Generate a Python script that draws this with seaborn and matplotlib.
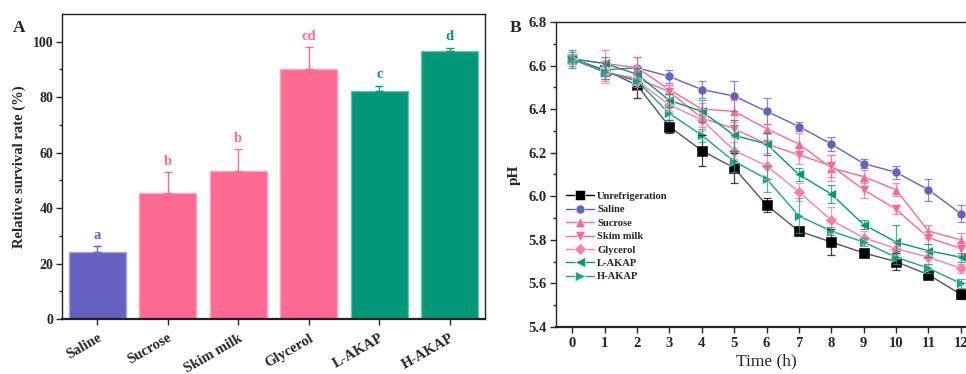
import matplotlib
matplotlib.use("Agg")
import matplotlib.pyplot as plt
import seaborn as sns
import pandas as pd
import numpy as np

# ---------------- data: panel A ----------------
treatments = ["Saline", "Sucrose", "Skim milk", "Glycerol", "L-AKAP", "H-AKAP"]
survival = [24.2, 45.4, 53.2, 90.0, 82.4, 96.8]
survival_err = [2.0, 7.5, 8.0, 8.0, 1.8, 1.1]
sig_letters = ["a", "b", "b", "cd", "c", "d"]
bar_colors = ["#6461C1", "#FF6A95", "#FF6A95", "#FF6A95", "#009878", "#009878"]
bar_edges = ["#A6A4E2", "#FFA3BE", "#FFA3BE", "#FFA3BE", "#66C2AE", "#66C2AE"]

# ---------------- data: panel B ----------------
hours = [0, 1, 2, 3, 4, 5, 6, 7, 8, 9, 10, 11, 12]
series_names = ["Unrefrigeration", "Saline", "Sucrose", "Skim milk", "Glycerol", "L-AKAP", "H-AKAP"]
ph_unref = [6.63, 6.58, 6.51, 6.32, 6.21, 6.13, 5.96, 5.84, 5.79, 5.74, 5.70, 5.64, 5.55]
ph_saline = [6.63, 6.58, 6.59, 6.55, 6.49, 6.46, 6.39, 6.32, 6.24, 6.15, 6.11, 6.03, 5.92]
ph_sucrose = [6.63, 6.61, 6.59, 6.49, 6.40, 6.39, 6.31, 6.24, 6.13, 6.09, 6.03, 5.84, 5.80]
ph_skim = [6.63, 6.57, 6.54, 6.48, 6.36, 6.31, 6.24, 6.19, 6.14, 6.03, 5.94, 5.81, 5.76]
ph_glycerol = [6.63, 6.57, 6.53, 6.42, 6.35, 6.21, 6.14, 6.02, 5.89, 5.81, 5.76, 5.72, 5.67]
ph_lakap = [6.63, 6.61, 6.56, 6.44, 6.39, 6.28, 6.24, 6.10, 6.01, 5.87, 5.79, 5.75, 5.72]
ph_hakap = [6.63, 6.57, 6.53, 6.38, 6.28, 6.16, 6.08, 5.91, 5.84, 5.79, 5.72, 5.67, 5.60]
err_unref = [0.02, 0.03, 0.06, 0.03, 0.07, 0.07, 0.03, 0.02, 0.06, 0.02, 0.04, 0.01, 0.02]
err_saline = [0.02, 0.04, 0.05, 0.03, 0.04, 0.07, 0.06, 0.02, 0.03, 0.02, 0.03, 0.05, 0.04]
err_sucrose = [0.02, 0.06, 0.05, 0.02, 0.03, 0.05, 0.02, 0.05, 0.06, 0.03, 0.03, 0.03, 0.03]
err_skim = [0.02, 0.04, 0.04, 0.03, 0.04, 0.04, 0.05, 0.04, 0.05, 0.04, 0.02, 0.03, 0.03]
err_glycerol = [0.02, 0.05, 0.04, 0.03, 0.05, 0.04, 0.06, 0.04, 0.06, 0.03, 0.03, 0.03, 0.02]
err_lakap = [0.04, 0.03, 0.03, 0.03, 0.05, 0.07, 0.05, 0.03, 0.04, 0.02, 0.08, 0.03, 0.02]
err_hakap = [0.03, 0.03, 0.03, 0.03, 0.03, 0.05, 0.06, 0.08, 0.02, 0.02, 0.03, 0.02, 0.02]
line_colors = ["#000000", "#6461C1", "#FF6A95", "#FF6A95", "#FF7FA8", "#009878", "#1AA385"]
line_markers = ["s", "o", "^", "v", "D", "<", ">"]

ph_all = [ph_unref, ph_saline, ph_sucrose, ph_skim, ph_glycerol, ph_lakap, ph_hakap]
err_all = [err_unref, err_saline, err_sucrose, err_skim, err_glycerol, err_lakap, err_hakap]

sns.set_theme(style="ticks")
plt.rcParams["font.family"] = ["Liberation Serif", "DejaVu Serif"]
plt.rcParams["font.weight"] = "bold"
plt.rcParams["axes.linewidth"] = 1.0

fig = plt.figure(figsize=(9.66, 3.74), dpi=100)

# ---------------- panel A ----------------
axA = fig.add_axes([0.0642, 0.1471, 0.4379, 0.8155])
dfA = pd.DataFrame({"treatment": treatments, "survival": survival})
sns.barplot(data=dfA, x="treatment", y="survival", hue="treatment",
            palette=dict(zip(treatments, bar_colors)), legend=False,
            width=0.81, ax=axA, errorbar=None, saturation=1)
for patch, ec in zip(axA.patches, bar_edges):
    patch.set_edgecolor(ec)
    patch.set_linewidth(1.0)
for i, (v, e, c, lab) in enumerate(zip(survival, survival_err, bar_colors, sig_letters)):
    axA.errorbar(i, v, yerr=[[0], [e]], fmt="none", ecolor=c, elinewidth=1.0,
                 capsize=3, capthick=1.0)
    axA.text(i, v + e + 1.5, lab, color=c, ha="center", va="bottom",
             fontsize=10.5, fontweight="bold")
axA.set_xlim(-0.5, 5.5)
axA.set_ylim(0, 110)
axA.set_yticks([0, 20, 40, 60, 80, 100])
axA.set_yticks(np.arange(10, 110, 20), minor=True)
axA.tick_params(axis="both", direction="out", length=4, width=1, labelsize=10, pad=2)
axA.tick_params(axis="y", which="minor", direction="out", length=2.5, width=1)
axA.set_xticks(range(len(treatments)))
axA.set_xticklabels(treatments, rotation=30, ha="right", rotation_mode="anchor",
                    fontsize=10.5, fontweight="bold")
for lbl in axA.get_yticklabels():
    lbl.set_fontweight("bold")
axA.tick_params(axis="x", pad=5)
axA.set_xlabel("")
axA.set_ylabel("Relative survival rate (%)", fontsize=10.5, fontweight="bold", labelpad=5)
for s in axA.spines.values():
    s.set_visible(True)
    s.set_color("#222222")
axA.spines["bottom"].set_linewidth(1.6)
fig.text(0.013, 0.915, "A", fontsize=12.5, fontweight="bold")

# ---------------- panel B ----------------
axB = fig.add_axes([0.5756, 0.1257, 0.4358, 0.8155])
rows = []
for name, vals in zip(series_names, ph_all):
    for h, v in zip(hours, vals):
        rows.append({"hour": h, "pH": v, "group": name})
dfB = pd.DataFrame(rows)
sns.lineplot(data=dfB, x="hour", y="pH", hue="group", style="group",
             hue_order=series_names, style_order=series_names,
             palette=dict(zip(series_names, line_colors)),
             markers=dict(zip(series_names, line_markers)), dashes=False,
             markersize=6.5, linewidth=1.0, markeredgewidth=0.4, ax=axB)
for line, name in zip(axB.get_lines(), series_names):
    if name == "Unrefrigeration":
        line.set_color("#555555")
        line.set_markerfacecolor("#000000")
        line.set_markeredgecolor("#000000")
for vals, errs, c in zip(ph_all, err_all, line_colors):
    axB.errorbar(hours, vals, yerr=errs, fmt="none", ecolor=c, elinewidth=0.9,
                 capsize=3, capthick=0.9, alpha=0.75)
axB.set_xlim(-0.5, 12.5)
axB.set_ylim(5.4, 6.8)
axB.set_xticks(hours)
axB.set_yticks([5.4, 5.6, 5.8, 6.0, 6.2, 6.4, 6.6, 6.8])
axB.set_yticks(np.arange(5.5, 6.8, 0.2), minor=True)
axB.tick_params(axis="both", direction="out", length=4, width=1, labelsize=10.5, pad=3)
axB.tick_params(axis="y", which="minor", direction="out", length=2.5, width=1)
for lbl in axB.get_xticklabels() + axB.get_yticklabels():
    lbl.set_fontweight("bold")
axB.set_xlabel("Time (h)", fontsize=12.5, fontweight="normal", labelpad=3)
axB.set_ylabel("pH", fontsize=11, fontweight="bold", labelpad=5)
for s in axB.spines.values():
    s.set_visible(True)
    s.set_color("#222222")
axB.spines["bottom"].set_linewidth(1.6)
leg = axB.legend(loc="upper left", bbox_to_anchor=(0.0, 0.475), frameon=False,
                 prop={"size": 7.6, "weight": "bold"}, handlelength=2.7,
                 handletextpad=0.3, labelspacing=0.38, borderaxespad=0.5)
fig.text(0.528, 0.915, "B", fontsize=12.5, fontweight="bold")

fig.savefig("out.png", dpi=100)
